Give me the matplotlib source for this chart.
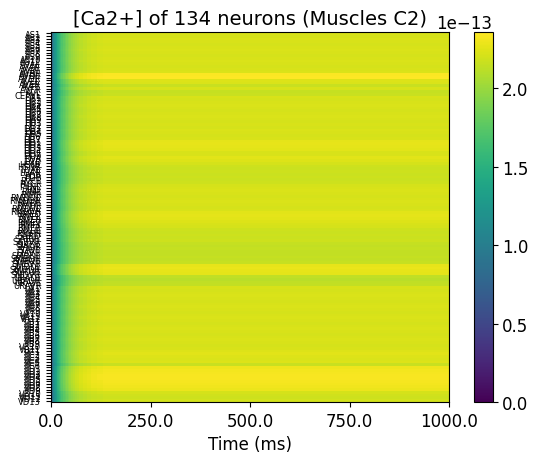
import numpy as np
import matplotlib
matplotlib.use("Agg")
import matplotlib.pyplot as plt
from matplotlib.ticker import FormatStrFormatter

# neuron names, top row first
neurons = (["AS%d" % i for i in range(1, 12)]
           + ["AVAL", "AVAR", "AVBL", "AVBR", "AVDL", "AVDR", "AVEL", "AVER",
              "AVFL", "AVFR", "AVL", "CEPVL"]
           + ["DA%d" % i for i in range(1, 10)]
           + ["DB%d" % i for i in range(1, 8)]
           + ["DD%d" % i for i in range(1, 7)]
           + ["DVA", "DVB", "HSNL", "HSNR", "LUAL", "LUAR", "PDA", "PDB",
              "PVCL", "PVCR", "PVNL", "RID", "RIML", "RIMR",
              "RMDDL", "RMDDR", "RMDL", "RMDR", "RMDVL", "RMDVR",
              "RMED", "RMEL", "RMER", "RMEV", "RMFL", "RMFR", "RMHL", "RMHR",
              "SABD", "SABVL", "SABVR", "SIADL", "SIADR", "SIAVL", "SIAVR",
              "SMBDL", "SMBDR", "SMBVL", "SMBVR", "SMDDL", "SMDDR", "SMDVL", "SMDVR",
              "URADL", "URADR", "URAVL", "URAVR"]
           + ["VA%d" % i for i in range(1, 13)]
           + ["VB%d" % i for i in range(1, 12)]
           + ["VC%d" % i for i in range(1, 7)]
           + ["VD%d" % i for i in range(1, 14)])

# steady [Ca2+] of each row (x 1e-13)
plateau = [
    2.22, 2.21, 2.23, 2.22, 2.21, 2.22, 2.23, 2.22, 2.21, 2.22,
    2.23, 2.22, 2.21, 2.22, 2.23, 2.35, 2.36, 2.24, 2.23, 2.16,
    2.22, 2.15, 2.16, 2.22, 2.21, 2.22, 2.23, 2.22, 2.21, 2.22,
    2.23, 2.22, 2.21, 2.22, 2.21, 2.23, 2.22, 2.21, 2.22, 2.26,
    2.27, 2.26, 2.25, 2.22, 2.22, 2.25, 2.24, 2.21, 2.18, 2.17,
    2.18, 2.17, 2.18, 2.17, 2.18, 2.21, 2.22, 2.23, 2.22, 2.21,
    2.22, 2.23, 2.22, 2.21, 2.22, 2.25, 2.26, 2.25, 2.24, 2.22,
    2.21, 2.18, 2.17, 2.18, 2.17, 2.18, 2.15, 2.14, 2.15, 2.14,
    2.14, 2.15, 2.14, 2.15, 2.27, 2.28, 2.27, 2.26, 2.13, 2.12,
    2.13, 2.14, 2.22, 2.21, 2.22, 2.23, 2.22, 2.21, 2.22, 2.23,
    2.22, 2.21, 2.22, 2.23, 2.22, 2.21, 2.22, 2.23, 2.22, 2.21,
    2.22, 2.23, 2.22, 2.21, 2.22, 2.24, 2.25, 2.24, 2.23, 2.24,
    2.16, 2.30, 2.32, 2.33, 2.34, 2.34, 2.33, 2.32, 2.31, 2.29,
    2.21, 2.19, 2.18, 2.20,
]

# rise after t=0, as a fraction of the steady value
t_edges = [0, 1, 2, 3, 4, 5, 6, 8, 10, 12, 14, 16, 18, 20, 23, 26, 30, 34, 38,
           42, 46, 50, 55, 60, 65, 70, 80, 90, 100, 115, 130, 1000]
rise = [0.0, 0.25, 0.33, 0.38, 0.42, 0.45, 0.49, 0.53, 0.57, 0.60, 0.63, 0.66,
        0.68, 0.71, 0.74, 0.77, 0.80, 0.82, 0.84, 0.86, 0.88, 0.90, 0.915, 0.93,
        0.94, 0.955, 0.967, 0.977, 0.986, 0.993, 1.0]

data = np.outer(plateau, rise) * 1e-13

fig = plt.figure(figsize=(5.37, 4.64), dpi=100)
ax = fig.add_axes([51 / 537, 61 / 464, 398 / 537, 370 / 464])
cax = fig.add_axes([474 / 537, 61 / 464, 18.5 / 537, 370 / 464])

mesh = ax.pcolormesh(t_edges, np.arange(len(neurons) + 1), data,
                     cmap="viridis", shading="flat", edgecolors="none",
                     antialiased=False)
ax.set_ylim(len(neurons), 0)
ax.set_xlim(0, 1000)
ax.set_yticks(np.arange(len(neurons)) + 0.5)
ax.set_yticklabels(neurons, fontsize=6)
ax.set_xticks([0, 250, 500, 750, 1000])
ax.xaxis.set_major_formatter(FormatStrFormatter("%.1f"))
ax.tick_params(axis="x", labelsize=12)
ax.set_xlabel("Time (ms)", fontsize=12)
ax.set_title("[Ca2+] of 134 neurons (Muscles C2)", fontsize=14)

cb = fig.colorbar(mesh, cax=cax)
cb.ax.tick_params(labelsize=12)
cb.ax.yaxis.get_offset_text().set_fontsize(12)

fig.savefig("out.png", dpi=100)
